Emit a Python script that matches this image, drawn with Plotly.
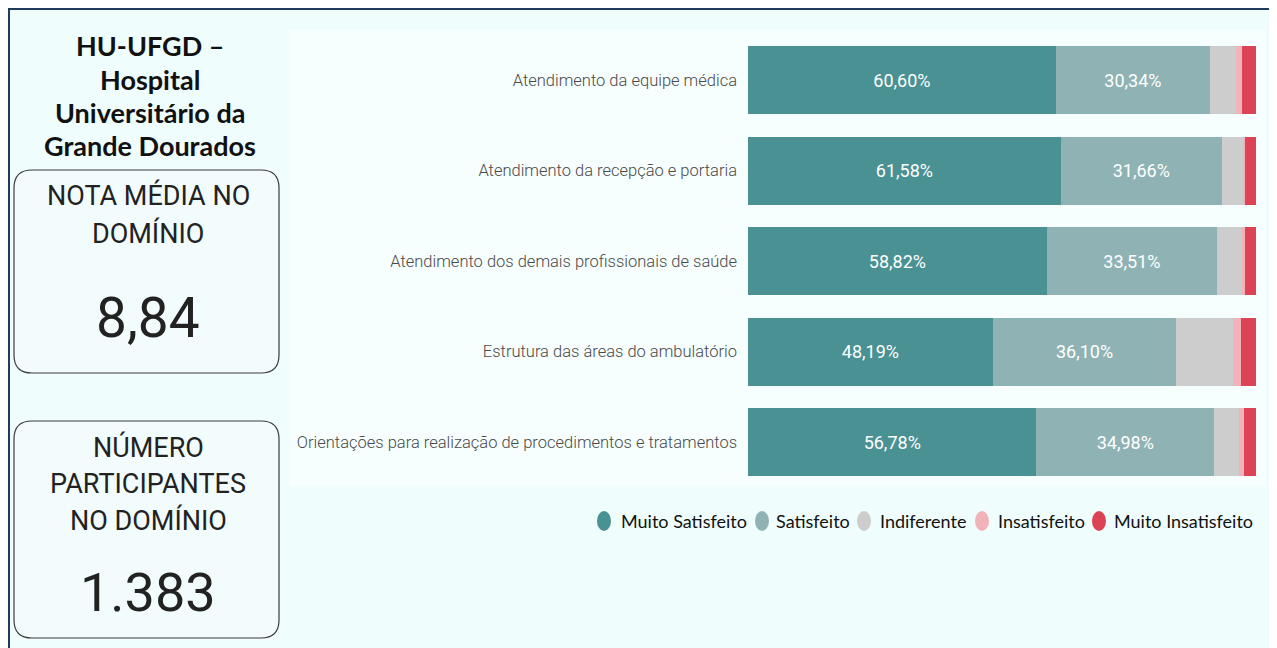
import plotly.graph_objects as go

# page body adds an 8px margin, so the figure is 8px smaller than the window
OFF = 8
W, H = 1277 - OFF, 648 - OFF

itens = [
    "Atendimento da equipe médica",
    "Atendimento da recepção e portaria",
    "Atendimento dos demais profissionais de saúde",
    "Estrutura das áreas do ambulatório",
    "Orientações para realização de procedimentos e tratamentos",
]
muito_satisfeito = [60.60, 61.58, 58.82, 48.19, 56.78]
satisfeito = [30.34, 31.66, 33.51, 36.10, 34.98]
indiferente = [5.12, 4.20, 4.87, 11.20, 4.80]
insatisfeito = [1.10, 0.40, 0.60, 1.60, 1.10]
muito_insatisfeito = [2.84, 2.16, 2.20, 2.91, 2.34]

series = [
    ("Muito Satisfeito", muito_satisfeito, "#4A9194", True),
    ("Satisfeito", satisfeito, "#8FB3B5", True),
    ("Indiferente", indiferente, "#CDCDCD", False),
    ("Insatisfeito", insatisfeito, "#F2B3B8", False),
    ("Muito Insatisfeito", muito_insatisfeito, "#DC4455", False),
]

nota_media = "8,84"
participantes = "1.383"


def px(x):
    return (x - OFF) / W


def py(y):
    return 1 - (y - OFF) / H


fig = go.Figure()
for name, vals, color, show_text in series:
    fig.add_trace(
        go.Bar(
            y=itens,
            x=vals,
            orientation="h",
            name=name,
            marker=dict(color=color, line=dict(width=0)),
            text=[f"{v:.2f}%".replace(".", ",") for v in vals] if show_text else None,
            textposition="inside" if show_text else "none",
            insidetextanchor="middle",
            textfont=dict(family="Roboto", size=18, color="white"),
            showlegend=False,
        )
    )

shapes = [
    # panel background + border
    dict(type="rect", xref="paper", yref="paper", x0=px(9), x1=px(1270), y0=-0.02, y1=py(9),
         fillcolor="#F0FDFD", line=dict(color="#1F3A5F", width=2), layer="below"),
    # chart area, a bit lighter
    dict(type="rect", xref="paper", yref="paper", x0=px(290), x1=px(1266), y0=py(486), y1=py(30),
         fillcolor="#F6FEFE", line=dict(width=0), layer="below"),
]


def card(x0, y0, x1, y1, r=18):
    # rounded rectangle, pixel coords -> paper
    path = (
        f"M {px(x0 + r)},{py(y0)} L {px(x1 - r)},{py(y0)} "
        f"Q {px(x1)},{py(y0)} {px(x1)},{py(y0 + r)} "
        f"L {px(x1)},{py(y1 - r)} Q {px(x1)},{py(y1)} {px(x1 - r)},{py(y1)} "
        f"L {px(x0 + r)},{py(y1)} Q {px(x0)},{py(y1)} {px(x0)},{py(y1 - r)} "
        f"L {px(x0)},{py(y0 + r)} Q {px(x0)},{py(y0)} {px(x0 + r)},{py(y0)} Z"
    )
    return dict(type="path", xref="paper", yref="paper", path=path,
                fillcolor="#F3FCFC", line=dict(color="#3A3A3A", width=1.2), layer="below")


shapes.append(card(14, 170, 279, 373))
shapes.append(card(14, 421, 279, 638))

annotations = []
titulo = ["HU-UFGD –", "Hospital", "Universitário da", "Grande Dourados"]
for i, t in enumerate(titulo):
    annotations.append(dict(
        text=f"<b>{t}</b>", x=px(150), y=py(46 + i * 33.3), xref="paper", yref="paper",
        showarrow=False, xanchor="center", yanchor="middle",
        font=dict(family="Lato", size=27, color="#111111"),
    ))

card_font = dict(family="Roboto", size=27, color="#222222")
for t, yy in [("NOTA MÉDIA NO", 196), ("DOMÍNIO", 233)]:
    annotations.append(dict(text=t, x=px(148), y=py(yy), xref="paper", yref="paper",
                            showarrow=False, xanchor="center", yanchor="middle", font=card_font))
annotations.append(dict(text=nota_media, x=px(148), y=py(318), xref="paper", yref="paper",
                        showarrow=False, xanchor="center", yanchor="middle",
                        font=dict(family="Roboto", size=55, color="#222222")))
for t, yy in [("NÚMERO", 447), ("PARTICIPANTES", 484), ("NO DOMÍNIO", 520)]:
    annotations.append(dict(text=t, x=px(148), y=py(yy), xref="paper", yref="paper",
                            showarrow=False, xanchor="center", yanchor="middle", font=card_font))
annotations.append(dict(text=participantes, x=px(148), y=py(592), xref="paper", yref="paper",
                        showarrow=False, xanchor="center", yanchor="middle",
                        font=dict(family="Roboto", size=54, color="#222222")))

# legend drawn by hand: circles + labels (entries overlap like in the source)
legend_pos = [(604, 619), (762, 774), (864, 878), (982, 996), (1099, 1112)]
for (name, _, color, _), (cx, tx) in zip(series, legend_pos):
    annotations.append(dict(text=name, x=px(tx), y=py(521), xref="paper", yref="paper",
                            showarrow=False, xanchor="left", yanchor="middle",
                            font=dict(family="Lato", size=18, color="#111111")))
    shapes.append(dict(type="circle", xref="paper", yref="paper",
                       x0=px(cx - 7), x1=px(cx + 7), y0=py(531), y1=py(511),
                       fillcolor=color, line=dict(width=0), layer="above"))

fig.update_layout(
    width=W,
    height=H,
    barmode="stack",
    bargap=0.25,
    margin=dict(l=0, r=0, t=0, b=0),
    paper_bgcolor="white",
    plot_bgcolor="rgba(0,0,0,0)",
    shapes=shapes,
    annotations=annotations,
    showlegend=False,
    xaxis=dict(
        domain=[px(748), px(1256)],
        range=[0, 100],
        showticklabels=False,
        tickvals=[0, 100],
        showgrid=True,
        gridcolor="#D8DEDE",
        zeroline=False,
        fixedrange=True,
    ),
    yaxis=dict(
        domain=[py(487.5), py(34.75)],
        autorange="reversed",
        showgrid=False,
        tickfont=dict(family="Roboto", size=16.5, color="#4A4A4A", weight=300),
        ticklabelstandoff=10,
        fixedrange=True,
    ),
    font=dict(family="Roboto"),
)

fig.write_html("out.html")
